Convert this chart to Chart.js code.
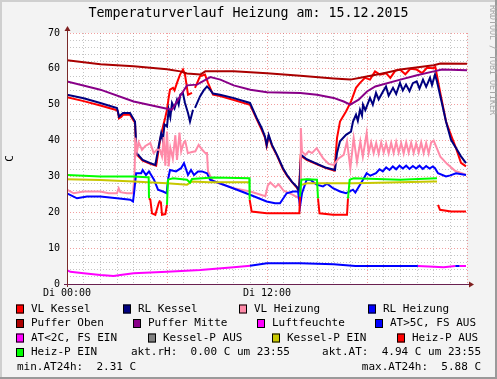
<!DOCTYPE html>
<html>
<head>
<meta charset="utf-8">
<script src="https://cdn.jsdelivr.net/npm/chart.js@4.4.0/dist/chart.umd.min.js"></script>
<style>
    html, body {margin: 0; padding: 0; background: #f3f3f3;}
    #chart {display: block;}
</style>
</head>
<body>
<canvas id="chart" width="497" height="379"></canvas>
<script>
// values, [hour, value]
const vlKessel = [[0,52.1],[1,51.0],[2,49.8],[2.9,48.6],[3.05,48.2],[3.12,46.2],[3.25,46.6],[3.36,47.2],[3.78,47.2],[3.96,45.8],[4.08,45.0],[4.16,36.2],[4.54,34.4],[5.0,33.5],[5.35,33.0],[5.45,36.0],[5.58,40.0],[5.76,43.9],[5.9,46.5],[6.0,48.6],[6.1,52.0],[6.18,54.2],[6.36,54.7],[6.45,54.0],[6.6,56.1],[6.78,58.4],[6.96,59.8],[7.08,58.4],[7.2,54.7],[7.26,52.8],[7.5,53.3],[7.58,null],[7.68,54.7],[7.98,57.9],[8.28,58.4],[8.46,56.1],[8.76,52.8],[9.18,52.4],[9.96,51.4],[10.98,50.0],[11.16,48.2],[11.38,46.0],[11.68,43.0],[11.88,40.8],[11.98,38.5],[12.1,41.2],[12.3,38.5],[12.6,35.8],[12.96,32.0],[13.2,30.2],[13.5,28.4],[13.8,26.8],[13.92,25.6],[14.02,35.8],[14.38,34.6],[15.0,33.4],[15.5,32.4],[16.05,31.6],[16.2,40.7],[16.38,45.3],[16.74,48.1],[17.04,50.9],[17.34,54.7],[17.58,56.1],[17.88,57.5],[18.18,57.0],[18.48,59.3],[18.78,58.4],[19.14,58.8],[19.4,57.5],[19.7,59.5],[19.98,59.8],[20.3,58.5],[20.6,60.0],[20.98,59.8],[21.3,58.8],[21.6,60.3],[21.96,60.2],[22.1,60.5],[22.38,53.7],[22.74,45.3],[23.04,41.5],[23.34,37.9],[23.64,33.8],[23.94,32.8]];
const rlKessel = [[0,52.8],[1,51.8],[2,50.5],[3,49.1],[3.12,46.7],[3.36,47.7],[3.78,47.7],[4.08,45.3],[4.18,36.5],[4.54,34.6],[5.0,33.7],[5.3,33.2],[5.5,38.4],[5.65,42.0],[5.75,40.0],[5.85,44.5],[6.0,43.9],[6.1,48.6],[6.2,46.5],[6.3,50.5],[6.45,49.0],[6.6,51.4],[6.7,50.0],[6.8,52.8],[6.95,53.3],[7.08,50.5],[7.26,47.7],[7.38,45.3],[7.56,48.6],[7.6,null],[7.68,49.1],[7.98,52.3],[8.2,54.0],[8.4,55.1],[8.58,54.2],[8.76,53.1],[9.18,52.8],[9.96,51.9],[10.98,50.5],[11.16,48.6],[11.38,46.3],[11.68,43.5],[11.88,41.1],[11.98,38.8],[12.1,41.6],[12.3,38.8],[12.6,36.0],[12.96,32.3],[13.2,30.4],[13.5,28.5],[13.8,27.0],[13.92,25.8],[14.05,36.0],[14.38,34.8],[15.0,33.5],[15.5,32.5],[16.08,31.8],[16.2,36.5],[16.38,39.8],[16.74,41.6],[17.04,42.5],[17.16,45.3],[17.34,47.2],[17.45,45.5],[17.58,48.6],[17.7,47.0],[17.76,50.0],[17.9,48.5],[18.18,51.9],[18.35,50.0],[18.54,53.3],[18.7,51.5],[18.96,53.7],[19.14,55.1],[19.3,52.5],[19.56,54.7],[19.75,53.0],[19.98,56.1],[20.15,54.0],[20.34,55.6],[20.55,53.8],[20.75,56.0],[20.98,56.5],[21.15,54.5],[21.36,57.0],[21.55,55.0],[21.78,57.5],[21.9,55.5],[22.08,58.4],[22.2,56.5],[22.38,52.8],[22.56,49.1],[22.74,45.3],[23.04,40.2],[23.34,37.9],[23.64,35.6],[23.94,33.7]];
const vlHeizung = [[0,26.3],[0.4,25.3],[1,25.8],[2,25.8],[2.5,25.3],[3.0,25.3],[3.1,26.7],[3.2,25.6],[3.6,25.3],[3.96,25.3],[4.05,30.0],[4.1,40.8],[4.2,37.0],[4.3,39.5],[4.5,37.4],[4.7,38.5],[5.0,39.3],[5.2,36.5],[5.4,37.5],[5.58,37.4],[5.7,35.6],[5.8,41.0],[5.9,33.0],[6.0,42.5],[6.1,32.8],[6.2,38.0],[6.35,35.0],[6.5,41.5],[6.6,34.6],[6.75,42.2],[6.85,37.0],[7.0,39.3],[7.1,39.8],[7.25,36.5],[7.5,36.8],[7.7,37.0],[7.9,38.8],[8.1,37.5],[8.3,36.5],[8.4,36.5],[8.46,31.4],[8.76,28.6],[9.5,27.5],[10.0,26.7],[11.0,25.8],[11.9,24.5],[12.05,27.5],[12.2,28.3],[12.5,27.0],[12.7,27.8],[13.0,26.0],[13.5,25.0],[13.9,24.0],[14.0,25.5],[14.03,43.5],[14.1,37.0],[14.3,36.0],[14.5,37.0],[14.7,36.5],[14.98,37.9],[15.36,35.1],[15.7,33.5],[16.0,33.2],[16.3,35.0],[16.6,36.0],[16.8,39.8],[17.0,32.3],[17.2,40.7],[17.4,34.0],[17.6,39.8],[17.75,35.5],[17.98,42.1],[18.1,36.5],[18.25,39.5],[18.4,36.5],[18.55,39.3],[18.7,36.3],[18.85,39.5],[19.0,36.6],[19.15,39.2],[19.3,36.4],[19.45,39.4],[19.6,36.5],[19.75,39.6],[19.9,36.6],[20.05,39.3],[20.2,36.4],[20.35,39.5],[20.5,36.6],[20.65,39.4],[20.8,36.5],[20.95,39.2],[21.1,36.6],[21.25,39.5],[21.4,36.5],[21.55,39.3],[21.7,36.4],[21.85,39.5],[22.0,40.0],[22.4,35.5],[22.8,33.5],[23.3,31.5],[23.94,30.5]];
const rlHeizung = [[0,25.3],[0.6,23.9],[1.2,24.4],[2,24.4],[3,23.9],[3.8,23.5],[3.96,23.0],[4.02,25.3],[4.15,30.9],[4.45,30.9],[4.54,31.8],[4.74,30.4],[4.92,31.4],[5.22,29.1],[5.46,26.3],[5.76,25.8],[5.98,25.3],[6.06,29.1],[6.18,31.8],[6.54,31.4],[6.84,32.3],[7.02,33.7],[7.26,30.4],[7.44,31.8],[7.62,30.4],[7.86,31.4],[8.1,31.4],[8.4,30.9],[8.58,29.1],[9.96,26.7],[10.98,24.9],[11.98,23.0],[12.48,22.5],[12.78,22.5],[13.18,25.3],[13.56,25.8],[13.86,25.8],[13.98,21.6],[14.1,25.3],[14.38,29.1],[14.6,29.1],[14.98,27.7],[15.36,27.2],[15.6,28.0],[15.96,26.7],[16.38,25.8],[16.74,25.3],[17.16,26.3],[17.3,25.5],[17.76,29.1],[17.98,30.9],[18.2,30.2],[18.54,30.9],[18.75,32.0],[18.95,31.4],[19.15,32.5],[19.35,31.8],[19.55,32.8],[19.75,32.0],[19.95,33.0],[20.15,32.2],[20.35,33.0],[20.55,32.1],[20.75,32.9],[20.95,32.2],[21.15,33.0],[21.35,32.1],[21.55,32.9],[21.75,32.2],[21.95,32.8],[22.08,32.3],[22.26,30.9],[22.74,30.0],[23.0,30.3],[23.34,30.9],[23.94,30.4]];
const pufferOben = [[0,62.4],[2,61.3],[4,60.7],[6,59.9],[6.8,59.3],[7.2,58.7],[8.0,58.4],[8.3,59.3],[10,59.3],[12,58.8],[14,58.1],[16,57.3],[17,57.0],[17.6,57.5],[19,58.8],[20,59.8],[22,61.0],[22.4,61.5],[24,61.4]];
const pufferMitte = [[0,56.5],[2,54.2],[4,50.9],[6,48.9],[6.3,48.6],[6.8,52.5],[7.2,55.4],[7.8,55.6],[8.6,57.7],[9.2,57.0],[10,55.4],[11,54.2],[12,53.5],[14,53.3],[15,52.8],[16,51.9],[16.6,50.9],[17.0,50.0],[17.5,51.4],[18,53.7],[18.5,55.1],[20,57.0],[21,58.2],[22,59.3],[22.5,59.8],[24,59.6]];
const atKalt = [[0,3.9],[0.2,3.4],[1,3.0],[2,2.5],[2.8,2.2],[3.2,2.5],[4,3.0],[6,3.4],[8,3.9],[10,4.7],[11,5.1],[11.05,null],[21.0,null],[21.05,5.0],[22,4.8],[22.6,4.7],[23.3,5.0],[23.35,null],[23.5,null],[23.55,5.0],[23.94,5.0]];
const atWarm = [[10.98,5.1],[12,5.8],[14,5.8],[16,5.5],[17.3,5.0],[21.05,5.0],[21.1,null],[23.3,5.0],[23.55,5.0]];
const kesselPEin = [[0,29.2],[2,29.0],[4,28.6],[6,28.1],[7.2,27.7],[7.5,28.6],[8.5,28.4],[10.94,28.4],[11.0,null],[14.06,null],[14.1,27.7],[14.4,28.1],[16,28.1],[17.2,28.1],[18,28.2],[20,28.4],[22,28.6],[22.2,28.6]];
const heizPEin = [[0,30.4],[1,30.2],[2,30.0],[4,30.0],[4.8,29.8],[4.9,29.8],[4.92,23.9],[4.95,null],[5.58,23.3],[5.62,23.3],[5.7,null],[6.0,22.1],[6.06,29.1],[6.36,29.5],[7.2,29.1],[7.38,28.3],[7.5,29.3],[8.76,29.7],[10.94,29.5],[10.96,23.5],[11.0,null],[13.98,24.4],[14.06,29.1],[14.38,29.2],[15.0,29.1],[15.06,23.9],[15.1,null],[16.86,23.9],[16.96,29.1],[17.2,29.5],[19.98,29.1],[22.2,29.5]];
const heizPAus = [[4.92,23.9],[5.0,23.5],[5.1,19.7],[5.3,19.3],[5.5,22.5],[5.58,23.3],[5.62,null],[5.63,23.0],[5.7,19.3],[5.9,19.5],[6.0,22.1],[6.05,null],[10.96,23.5],[11.08,20.2],[11.98,19.7],[12.96,19.7],[13.94,19.7],[13.98,24.4],[14.0,null],[15.06,23.9],[15.15,19.7],[15.96,19.3],[16.8,19.3],[16.86,23.9],[16.9,null],[22.26,22.1],[22.38,20.7],[23.04,20.2],[23.94,20.2]];

const xLabelHours = [0, 12];
const xLabelTexts = ["Di 00:00", "Di 12:00"];
const chartTitle = "Temperaturverlauf Heizung am: 15.12.2015";
const legendRows = [
    [["VL Kessel", "#ff0000"], ["RL Kessel", "#000080"], ["VL Heizung", "#ff8aa8"], ["RL Heizung", "#0000ff"]],
    [["Puffer Oben", "#aa0000"], ["Puffer Mitte", "#880088"], ["Luftfeuchte", "#ff00ff"], ["AT>5C, FS AUS", "#0000ff"]],
    [["AT<2C, FS EIN", "#ff00ff"], ["Kessel-P AUS", "#808080"], ["Kessel-P EIN", "#c8c800"], ["Heiz-P AUS", "#ff0000"]],
    [["Heiz-P EIN", "#00ff00"]]
];
const aktRH = "akt.rH:  0.00 C um 23:55";
const aktAT = "akt.AT:  4.94 C um 23:55";
const minAT = "min.AT24h:  2.31 C";
const maxAT = "max.AT24h:  5.88 C";

const MONO = "'DejaVu Sans Mono', monospace";
const toPoints = arr => arr.map(p => ({x: p[0], y: p[1]}));

const series = [
    {data: vlKessel, color: "#ff0000"},
    {data: rlKessel, color: "#000080"},
    {data: vlHeizung, color: "#ff8aa8"},
    {data: rlHeizung, color: "#0000ff"},
    {data: pufferOben, color: "#aa0000"},
    {data: pufferMitte, color: "#880088"},
    {data: atKalt, color: "#ff00ff"},
    {data: atWarm, color: "#0000ff"},
    {data: kesselPEin, color: "#c8c800"},
    {data: heizPAus, color: "#ff0000"},
    {data: heizPEin, color: "#00ff00"},
];

// rrdtool-like frame, title, arrows and legend
const decor = {
    id: "decor",
    beforeDraw(chart) {
        const {ctx, chartArea: a, width, height} = chart;
        ctx.save();
        ctx.fillStyle = "#f3f3f3";
        ctx.fillRect(0, 0, width, height);
        ctx.fillStyle = "#cfcfcf";
        ctx.fillRect(0, 0, width, 2);
        ctx.fillRect(0, 0, 2, height);
        ctx.fillStyle = "#9a9a9a";
        ctx.fillRect(0, height - 2, width, 2);
        ctx.fillRect(width - 2, 0, 2, height);
        ctx.fillStyle = "#ffffff";
        ctx.fillRect(a.left, a.top, a.right - a.left, a.bottom - a.top);
        ctx.restore();
    },
    afterDraw(chart) {
        const {ctx, chartArea: a} = chart;
        ctx.save();
        // axes
        ctx.strokeStyle = "#6a2050";
        ctx.lineWidth = 1;
        ctx.beginPath();
        ctx.moveTo(a.left - 3, a.bottom + 0.5);
        ctx.lineTo(a.right + 4, a.bottom + 0.5);
        ctx.stroke();
        ctx.strokeStyle = "#7a2a2a";
        ctx.beginPath();
        ctx.moveTo(a.left + 0.5, a.bottom + 3);
        ctx.lineTo(a.left + 0.5, a.top - 4);
        ctx.stroke();
        ctx.fillStyle = "#7f1f1f";
        ctx.beginPath();
        ctx.moveTo(a.left + 0.5, a.top - 7);
        ctx.lineTo(a.left - 2.5, a.top - 2);
        ctx.lineTo(a.left + 3.5, a.top - 2);
        ctx.fill();
        ctx.beginPath();
        ctx.moveTo(a.right + 7, a.bottom + 0.5);
        ctx.lineTo(a.right + 2, a.bottom - 2.5);
        ctx.lineTo(a.right + 2, a.bottom + 3.5);
        ctx.fill();

        // title
        ctx.fillStyle = "#000";
        ctx.font = "13.3px " + MONO;
        ctx.textAlign = "center";
        ctx.textBaseline = "middle";
        ctx.fillText(chartTitle, 248.5, 14);

        // watermark
        ctx.save();
        ctx.translate(492, 5);
        ctx.rotate(Math.PI / 2);
        ctx.fillStyle = "#a8a8a8";
        ctx.font = "8.3px " + MONO;
        ctx.textAlign = "left";
        ctx.fillText("RRDTOOL / TOBI OETIKER", 0, 0);
        ctx.restore();

        // legend
        ctx.font = "11px " + MONO;
        ctx.textAlign = "left";
        ctx.textBaseline = "middle";
        const rowY = [309, 323.5, 338, 352.5];
        const boxX = [[16, 123, 239, 368], [16, 133, 257, 375], [16, 148, 272, 397], [16]];
        legendRows.forEach((row, r) => {
            row.forEach(([label, color], i) => {
                const bx = boxX[r][i];
                ctx.fillStyle = color;
                ctx.fillRect(bx, rowY[r] - 4.5, 8, 9);
                ctx.strokeStyle = "#000";
                ctx.lineWidth = 1;
                ctx.strokeRect(bx + 0.5, rowY[r] - 4, 7, 8);
                ctx.fillStyle = "#000";
                ctx.fillText(label, bx + 15, rowY[r]);
            });
        });
        ctx.fillText(aktRH, 131, rowY[3]);
        ctx.textAlign = "right";
        ctx.fillText(aktAT, 481, rowY[3]);
        ctx.fillText(maxAT, 481, 367);
        ctx.textAlign = "left";
        ctx.fillText(minAT, 17, 367);
        ctx.restore();
    }
};

const hours = [];
for (let h = 0; h <= 24; h++) hours.push(h);
const yGrid = [];
for (let v = 0; v <= 70; v += 2) yGrid.push(v);

new Chart(document.getElementById("chart"), {
    type: "line",
    data: {
        datasets: series.map((s, i) => ({
            data: toPoints(s.data),
            borderColor: s.color,
            backgroundColor: s.color,
            borderWidth: 2,
            pointRadius: 0,
            tension: 0,
            spanGaps: false,
            order: series.length - i
        }))
    },
    options: {
        responsive: false,
        animation: false,
        parsing: false,
        layout: {padding: {top: 33, right: 30, bottom: 79, left: 0}},
        plugins: {legend: {display: false}, tooltip: {enabled: false}, title: {display: false}},
        scales: {
            x: {
                type: "linear",
                min: 0,
                max: 24,
                afterFit: s => { s.height = 16; },
                afterBuildTicks: s => { s.ticks = hours.map(v => ({value: v})); },
                ticks: {
                    autoSkip: false,
                    maxRotation: 0,
                    padding: 3,
                    color: "#000",
                    font: {family: MONO, size: 10},
                    callback: v => {
                        const i = xLabelHours.indexOf(v);
                        return i >= 0 ? xLabelTexts[i] : "";
                    }
                },
                grid: {
                    drawTicks: false,
                    lineWidth: 1,
                    color: c => c.tick && c.tick.value % 6 === 0 ? "rgba(230,80,80,0.55)" : "rgba(150,150,150,0.55)"
                },
                border: {display: false, dash: [1, 2]}
            },
            y: {
                min: 0,
                max: 70,
                afterFit: s => { s.width = 67; },
                afterBuildTicks: s => { s.ticks = yGrid.map(v => ({value: v})); },
                ticks: {
                    autoSkip: false,
                    padding: 7,
                    color: "#000",
                    font: {family: MONO, size: 10},
                    callback: v => v % 10 === 0 ? String(v) : ""
                },
                title: {display: true, text: "C", color: "#000", font: {family: MONO, size: 11}, padding: {top: 4, bottom: 0}},
                grid: {
                    drawTicks: false,
                    lineWidth: 1,
                    color: c => c.tick && c.tick.value % 10 === 0 ? "rgba(230,80,80,0.55)" : "rgba(150,150,150,0.55)"
                },
                border: {display: false, dash: [1, 2]}
            }
        }
    },
    plugins: [decor]
});
</script>
</body>
</html>
